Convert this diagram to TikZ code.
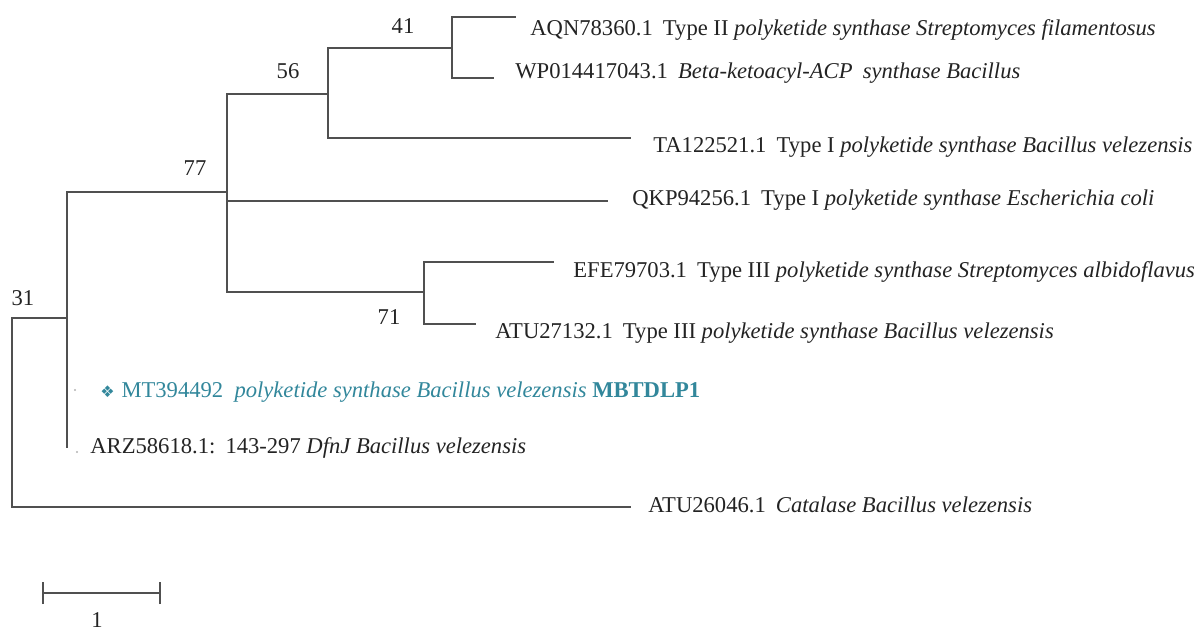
\documentclass[tikz,border=0pt]{standalone}
\usepackage{fontspec}
\setmainfont{Liberation Serif}
\newfontfamily\dejavu{DejaVu Sans}
\definecolor{branch}{RGB}{80,80,80}
\definecolor{txt}{RGB}{35,35,35}
\definecolor{teal}{RGB}{50,135,155}
\begin{document}
\begin{tikzpicture}[x=0.5pt,y=-0.5pt,
  br/.style={draw=branch,line width=0.9pt,line cap=rect},
  tip/.style={anchor=base west,inner sep=0pt,text=txt,font=\fontsize{11.3}{13}\selectfont},
  boot/.style={anchor=base,inner sep=0pt,text=txt,font=\fontsize{11.3}{13}\selectfont}]
\useasboundingbox (0,0) rectangle (1203,632);
% internal nodes
\coordinate (root) at (12,412);
\coordinate (nA) at (67,318);
\coordinate (n77) at (227,192);
\coordinate (n56) at (328,94);
\coordinate (n41) at (452,48);
\coordinate (n71) at (424,292);
% tips
\coordinate (tAQN) at (515,17);
\coordinate (tWP) at (493,78);
\coordinate (tTA) at (630,138);
\coordinate (tQKP) at (607,201);
\coordinate (tEFE) at (553,262);
\coordinate (tATUa) at (475,324);
\coordinate (tMT) at (67,390);
\coordinate (tARZ) at (67,447);
\coordinate (tATUb) at (630,507);
% branches
\draw[br] (root) |- (nA);
\draw[br] (root) |- (tATUb);
\draw[br] (nA) |- (n77);
\draw[br] (nA) |- (tMT);
\draw[br] (nA) |- (tARZ);
\draw[br] (n77) |- (n56);
\draw[br] (n77) |- (tQKP);
\draw[br] (n77) |- (n71);
\draw[br] (n56) |- (n41);
\draw[br] (n56) |- (tTA);
\draw[br] (n41) |- (tAQN);
\draw[br] (n41) |- (tWP);
\draw[br] (n71) |- (tEFE);
\draw[br] (n71) |- (tATUa);
% faint dots
\fill[black!30] (75,390) circle (1.2);
\fill[black!30] (77,452) circle (1.2);
% bootstrap values
\node[boot] (b41) at (403,33) {41};
\node[boot] (b56) at (288,78) {56};
\node[boot] (b77) at (195,175) {77};
\node[boot] (b31) at (23,305) {31};
\node[boot] (b71) at (389,324) {71};
% tip labels
\node[tip] (lAQN) at (530,35) {AQN78360.1\hspace{0.45em}Type II \textit{polyketide synthase Streptomyces filamentosus}};
\node[tip] (lWP) at (515,78) {WP014417043.1\hspace{0.45em}\textit{Beta-ketoacyl-ACP\hspace{0.45em}synthase Bacillus}};
\node[tip] (lTA) at (653,152) {TA122521.1\hspace{0.45em}Type I \textit{polyketide synthase Bacillus velezensis}};
\node[tip] (lQKP) at (632,205) {QKP94256.1\hspace{0.45em}Type I \textit{polyketide synthase Escherichia coli}};
\node[tip] (lEFE) at (573,277) {EFE79703.1\hspace{0.45em}Type III \textit{polyketide synthase Streptomyces albidoflavus}};
\node[tip] (lATUa) at (495,338) {ATU27132.1\hspace{0.45em}Type III \textit{polyketide synthase Bacillus velezensis}};
\node[tip,text=teal] (lMT) at (100,397) {{\dejavu\fontsize{8}{10}\selectfont ❖}\hspace{0.3em}MT394492\hspace{0.5em}\textit{polyketide synthase Bacillus velezensis} \textbf{MBTDLP1}};
\node[tip] (lARZ) at (90,453) {ARZ58618.1:\hspace{0.45em}143-297 \textit{DfnJ Bacillus velezensis}};
\node[tip] (lATUb) at (648,512) {ATU26046.1\hspace{0.45em}\textit{Catalase Bacillus velezensis}};
% scale bar
\coordinate (sbL) at (43,593);
\coordinate (sbR) at (160,593);
\draw[br,line cap=butt] (sbL) -- (sbR);
\draw[br,line cap=butt] ([yshift=-5.5]sbL) -- ([yshift=5.5]sbL);
\draw[br,line cap=butt] ([yshift=-5.5]sbR) -- ([yshift=5.5]sbR);
\node[boot] (sblab) at (97,627) {1};
\end{tikzpicture}
\end{document}
